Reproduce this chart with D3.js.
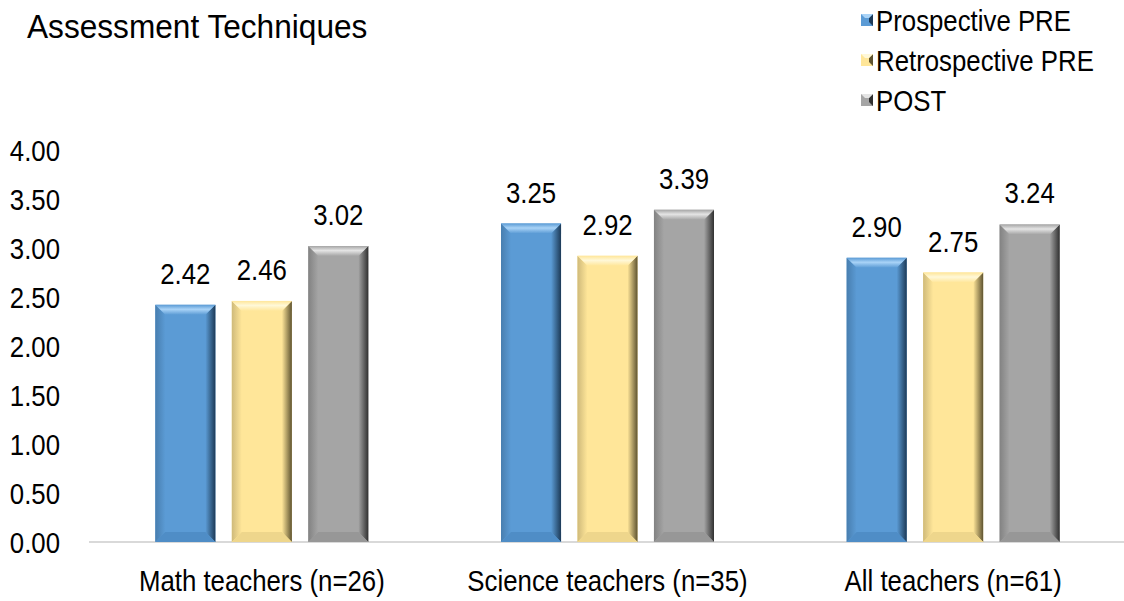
<!DOCTYPE html>
<html>
<head>
<meta charset="utf-8">
<script src="https://cdn.jsdelivr.net/npm/d3@7"></script>
<style>
  body { margin: 0; background: #fff; }
  text { font-family: "Liberation Sans", Arial, sans-serif; fill: #000; }
</style>
</head>
<body>
<script>
(() => {
  // data
  const categories = ["Math teachers (n=26)", "Science teachers (n=35)", "All teachers (n=61)"];
  const seriesNames = ["Prospective PRE", "Retrospective PRE", "POST"];
  const prospective = [2.42, 3.25, 2.90];
  const retrospective = [2.46, 2.92, 2.75];
  const post = [3.02, 3.39, 3.24];
  const yTicks = [0, 0.5, 1, 1.5, 2, 2.5, 3, 3.5, 4];

  const seriesValues = [prospective, retrospective, post];
  const colors = [
    {base: "#5b9bd5", light: "#a9d3f7", dark: "#1d3a57", bottom: "#4f8dc6"},
    {base: "#ffe699", light: "#fff8d8", dark: "#5e5330", bottom: "#eed68c"},
    {base: "#a5a5a5", light: "#e4e4e4", dark: "#303030", bottom: "#979797"}
  ];

  const W = 1124, H = 601;
  const margin = {top: 150, right: -2, bottom: 59, left: 89};
  const width = W - margin.left - margin.right;
  const height = H - margin.top - margin.bottom;
  const SX = 0.86; // text is a bit condensed
  const fs = "30px";

  const svg = d3.select("body").append("svg")
    .attr("width", W).attr("height", H);

  const defs = svg.append("defs");
  colors.forEach((c, i) => {
    let g = defs.append("linearGradient").attr("id", "right" + i)
      .attr("x1", 0).attr("x2", 1).attr("y1", 0).attr("y2", 0);
    g.append("stop").attr("offset", 0).attr("stop-color", c.base);
    g.append("stop").attr("offset", 0.5).attr("stop-color", d3.interpolateRgb(c.base, c.dark)(0.5));
    g.append("stop").attr("offset", 1).attr("stop-color", c.dark);
    let t = defs.append("linearGradient").attr("id", "top" + i)
      .attr("x1", 0).attr("x2", 0).attr("y1", 0).attr("y2", 1);
    t.append("stop").attr("offset", 0).attr("stop-color", c.base);
    t.append("stop").attr("offset", 0.45).attr("stop-color", c.light);
    t.append("stop").attr("offset", 1).attr("stop-color", c.base);
    let l = defs.append("linearGradient").attr("id", "left" + i)
      .attr("x1", 0).attr("x2", 1).attr("y1", 0).attr("y2", 0);
    l.append("stop").attr("offset", 0).attr("stop-color", d3.interpolateRgb(c.base, c.dark)(0.3));
    l.append("stop").attr("offset", 1).attr("stop-color", c.base);
  });

  const chart = svg.append("g")
    .attr("transform", "translate(" + margin.left + "," + margin.top + ")");

  const x0 = d3.scaleBand().domain(categories).range([0, width]).paddingInner(0).paddingOuter(0);
  const x1 = d3.scaleBand().domain(seriesNames).range([0, 213]).paddingInner(0.215);
  const y = d3.scaleLinear().domain([0, 4]).range([height, 0]);

  // y axis labels
  chart.append("g").selectAll("text")
    .data(yTicks).join("text")
    .attr("transform", d => "translate(-29," + (y(d) + 11) + ") scale(" + SX + ",1)")
    .attr("text-anchor", "end")
    .style("font-size", fs)
    .text(d3.format(".2f"));

  // baseline
  chart.append("line")
    .attr("x1", 0).attr("x2", width)
    .attr("y1", y(0)).attr("y2", y(0))
    .attr("stroke", "#d9d9d9").attr("stroke-width", 2);

  // bevelled bars
  const bev = 10;
  const groups = chart.selectAll(".grp")
    .data(categories).join("g")
    .attr("class", "grp")
    .attr("transform", d => "translate(" + (x0(d) + (x0.bandwidth() - 213) / 2) + ",0)");

  groups.each(function(cat, ci) {
    const g = d3.select(this);
    seriesNames.forEach((s, si) => {
      const v = seriesValues[si][ci];
      const bx = x1(s), bw = x1.bandwidth();
      const top = y(v), bot = y(0);
      const c = colors[si];
      const b = g.append("g");
      b.append("rect").attr("x", bx).attr("y", top).attr("width", bw).attr("height", bot - top)
        .attr("fill", c.base);
      // left
      b.append("polygon").attr("points", [[bx, top], [bx + bev, top + bev], [bx + bev, bot - bev], [bx, bot]].join(" "))
        .attr("fill", "url(#left" + si + ")");
      // right
      b.append("polygon").attr("points", [[bx + bw, top], [bx + bw - bev, top + bev], [bx + bw - bev, bot - bev], [bx + bw, bot]].join(" "))
        .attr("fill", "url(#right" + si + ")");
      // bottom
      b.append("polygon").attr("points", [[bx, bot], [bx + bev, bot - bev], [bx + bw - bev, bot - bev], [bx + bw, bot]].join(" "))
        .attr("fill", c.bottom);
      // top
      b.append("polygon").attr("points", [[bx, top], [bx + bev, top + bev], [bx + bw - bev, top + bev], [bx + bw, top]].join(" "))
        .attr("fill", "url(#top" + si + ")");
      // value label
      g.append("text")
        .attr("transform", "translate(" + (bx + bw / 2) + "," + (top - 21) + ") scale(" + SX + ",1)")
        .attr("text-anchor", "middle")
        .style("font-size", fs)
        .text(d3.format(".2f")(v));
    });
  });

  // category labels
  chart.append("g").selectAll("text")
    .data(categories).join("text")
    .attr("transform", d => "translate(" + (x0(d) + x0.bandwidth() / 2) + "," + (height + 49) + ") scale(" + SX + ",1)")
    .attr("text-anchor", "middle")
    .style("font-size", fs)
    .text(d => d);

  // title
  svg.append("text")
    .attr("transform", "translate(27,38) scale(0.93,1)")
    .style("font-size", "34px")
    .text("Assessment Techniques");

  // legend
  const legend = svg.append("g").attr("transform", "translate(861,0)");
  seriesNames.forEach((s, i) => {
    const ly = 20 + i * 40;
    const c = colors[i];
    const sz = 12, sb = 4;
    const lg = legend.append("g").attr("transform", "translate(0," + (ly - sz / 2) + ")");
    lg.append("rect").attr("width", sz).attr("height", sz).attr("fill", c.base);
    lg.append("polygon").attr("points", [[sz, 0], [sz - sb, sb], [sz - sb, sz - sb], [sz, sz]].join(" ")).attr("fill", c.dark);
    lg.append("polygon").attr("points", [[0, 0], [sb, sb], [sz - sb, sb], [sz, 0]].join(" ")).attr("fill", c.light);
    legend.append("text")
      .attr("transform", "translate(15," + (ly + 11) + ") scale(" + SX + ",1)")
      .style("font-size", fs)
      .text(s);
  });
})();
</script>
</body>
</html>
